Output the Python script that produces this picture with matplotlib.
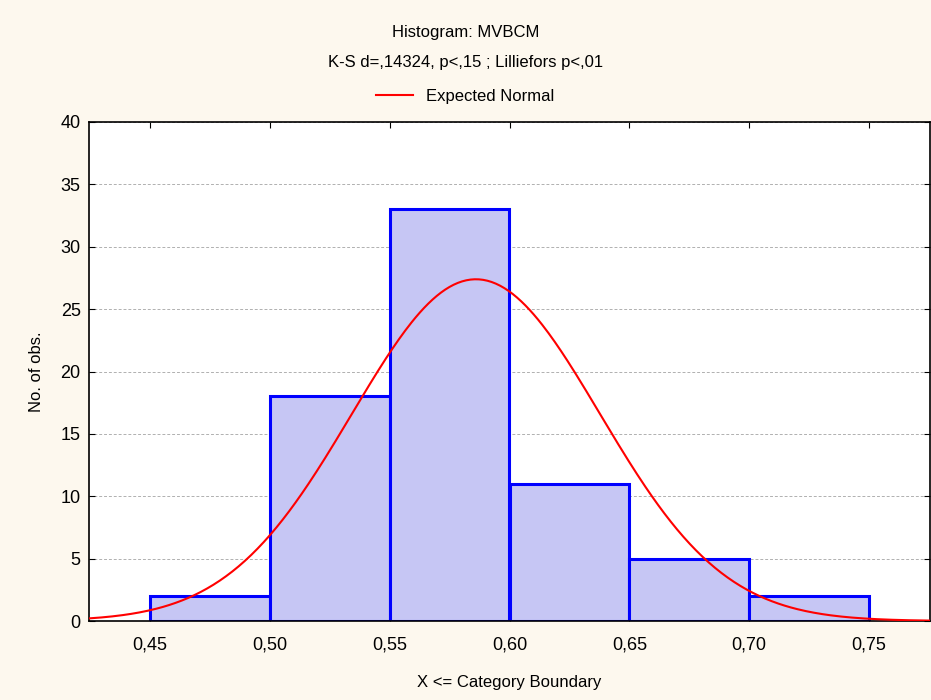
import numpy as np
import matplotlib
matplotlib.use("Agg")
import matplotlib.pyplot as plt

# ── Data ──────────────────────────────────────────────────────────────────────
bin_edges = [0.45, 0.50, 0.55, 0.60, 0.65, 0.70, 0.75]
counts    = [2, 18, 33, 11, 5, 2]
fit_mean  = 0.586
fit_sd    = 0.0517
x_ticks   = [0.45, 0.50, 0.55, 0.60, 0.65, 0.70, 0.75]
x_labels  = ["0,45", "0,50", "0,55", "0,60", "0,65", "0,70", "0,75"]
y_ticks   = [0, 5, 10, 15, 20, 25, 30, 35, 40]

BG     = "#fdf8ee"
FILL   = "#c6c6f4"
EDGE   = "#0000ff"
RED    = "#ff0000"

plt.rcParams["font.family"] = ["Liberation Sans", "DejaVu Sans"]

fig = plt.figure(figsize=(9.31, 7.0), dpi=100, facecolor=BG)
ax = fig.add_axes([89 / 931, 79 / 700, 841 / 931, 499 / 700])
ax.set_facecolor("white")

# histogram bars
lefts  = bin_edges[:-1]
widths = np.diff(bin_edges)
ax.bar(lefts, counts, width=widths, align="edge", color=FILL,
       edgecolor=EDGE, linewidth=2.2, zorder=2)

# expected normal curve
xlim = (0.4246, 0.7754)
xs = np.linspace(xlim[0], xlim[1], 400)
n_total = sum(counts)
bw = bin_edges[1] - bin_edges[0]
ys = n_total * bw / (fit_sd * np.sqrt(2 * np.pi)) * np.exp(-0.5 * ((xs - fit_mean) / fit_sd) ** 2)
line, = ax.plot(xs, ys, color=RED, linewidth=1.5, zorder=3, label="Expected Normal")

ax.set_xlim(*xlim)
ax.set_ylim(0, 40)
ax.set_xticks(x_ticks)
ax.set_xticklabels(x_labels)
ax.set_yticks(y_ticks)
ax.yaxis.grid(True, color="#b0b0b0", linestyle=(0, (3, 2)), linewidth=0.7, zorder=0)
ax.set_axisbelow(True)
ax.tick_params(direction="in", length=4, top=True, right=True, labelsize=13,
               colors="black", pad=6)
ax.tick_params(axis="x", pad=11)
for s in ax.spines.values():
    s.set_linewidth(1.2)
    s.set_color("black")

ax.set_xlabel("X <= Category Boundary", fontsize=12, labelpad=16)
ax.set_ylabel("No. of obs.", fontsize=12, labelpad=12)

fig.text(0.5, 1 - 32 / 700, "Histogram: MVBCM", ha="center", va="center", fontsize=12)
fig.text(0.5, 1 - 62 / 700, "K-S d=,14324, p<,15 ; Lilliefors p<,01",
         ha="center", va="center", fontsize=12)
fig.legend(handles=[line], loc="center", bbox_to_anchor=(0.5, 1 - 96 / 700),
           frameon=False, fontsize=12, handlelength=2.2, handletextpad=0.8)

fig.savefig("out.png", dpi=100, facecolor=BG)
